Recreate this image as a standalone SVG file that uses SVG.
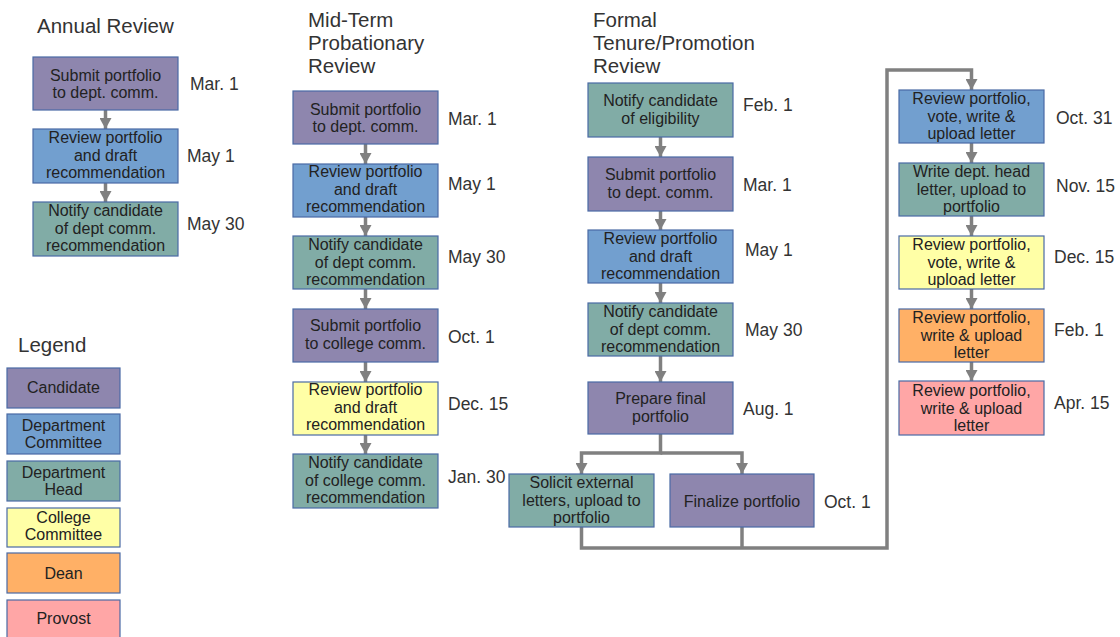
<svg xmlns="http://www.w3.org/2000/svg" width="1120" height="637" viewBox="0 0 1120 637">
<style>
text{font-family:"Liberation Sans",Arial,sans-serif}
.t{font-size:20.5px;fill:#333}
.d{font-size:17.5px;fill:#333}
.b{font-size:16px;fill:#222;text-anchor:middle}
.lg{font-size:16px;fill:#222;text-anchor:middle}
rect{stroke:#4a6aa5;stroke-width:1.2}
.cand{fill:#8e86ae}
.dc{fill:#729fcf}
.dh{fill:#81aca6}
.cc{fill:#ffffa6}
.dean{fill:#ffb066}
.prov{fill:#ffa6a6}
.c{fill:none;stroke:#808080;stroke-width:3.5}
</style>
<defs>
<marker id="ah" markerUnits="userSpaceOnUse" markerWidth="12" markerHeight="12" refX="11" refY="6" orient="auto">
<path d="M0,0 L11,6 L0,12 z" fill="#808080"/>
</marker>
</defs>
<g id="titles">
<text class="t" x="37" y="33">Annual Review</text>
<text class="t" x="308" y="27">Mid-Term</text>
<text class="t" x="308" y="50">Probationary</text>
<text class="t" x="308" y="73">Review</text>
<text class="t" x="593" y="27">Formal</text>
<text class="t" x="593" y="50">Tenure/Promotion</text>
<text class="t" x="593" y="73">Review</text>
<text class="t" x="18" y="352">Legend</text>
</g>
<g id="connectors">
<path class="c" d="M105.5,110 V129" marker-end="url(#ah)"/>
<path class="c" d="M105.5,183 V202" marker-end="url(#ah)"/>
<path class="c" d="M365.5,144 V164" marker-end="url(#ah)"/>
<path class="c" d="M365.5,217 V236" marker-end="url(#ah)"/>
<path class="c" d="M365.5,289 V309" marker-end="url(#ah)"/>
<path class="c" d="M365.5,362 V382" marker-end="url(#ah)"/>
<path class="c" d="M365.5,435 V454" marker-end="url(#ah)"/>
<path class="c" d="M660.5,137 V157" marker-end="url(#ah)"/>
<path class="c" d="M660.5,211 V230" marker-end="url(#ah)"/>
<path class="c" d="M660.5,283 V303" marker-end="url(#ah)"/>
<path class="c" d="M660.5,356 V382" marker-end="url(#ah)"/>
<path class="c" d="M660.5,434 V453 H581.5 V474" marker-end="url(#ah)"/>
<path class="c" d="M660.5,453 H742 V474" marker-end="url(#ah)"/>
<path class="c" d="M581.5,527 V548 H887 V70 H971.5 V90" marker-end="url(#ah)"/>
<path class="c" d="M742,527 V548"/>
<path class="c" d="M971.5,143 V163" marker-end="url(#ah)"/>
<path class="c" d="M971.5,216 V236" marker-end="url(#ah)"/>
<path class="c" d="M971.5,289 V309" marker-end="url(#ah)"/>
<path class="c" d="M971.5,362 V381" marker-end="url(#ah)"/>
</g>
<g id="a1"><rect class="cand" x="33" y="57" width="145" height="53"/><text class="b"><tspan x="105.5" y="81">Submit portfolio</tspan><tspan x="105.5" y="98">to dept. comm.</tspan></text><text class="d" x="190" y="90">Mar. 1</text></g>
<g id="a2"><rect class="dc" x="33" y="129" width="145" height="54"/><text class="b"><tspan x="105.5" y="143">Review portfolio</tspan><tspan x="105.5" y="161">and draft</tspan><tspan x="105.5" y="178">recommendation</tspan></text><text class="d" x="187" y="162">May 1</text></g>
<g id="a3"><rect class="dh" x="33" y="202" width="145" height="54"/><text class="b"><tspan x="105.5" y="216">Notify candidate</tspan><tspan x="105.5" y="234">of dept comm.</tspan><tspan x="105.5" y="251">recommendation</tspan></text><text class="d" x="187" y="230">May 30</text></g>

<g id="m1"><rect class="cand" x="293" y="91" width="145" height="53"/><text class="b"><tspan x="365.5" y="115">Submit portfolio</tspan><tspan x="365.5" y="132">to dept. comm.</tspan></text><text class="d" x="448" y="125">Mar. 1</text></g>
<g id="m2"><rect class="dc" x="293" y="164" width="145" height="53"/><text class="b"><tspan x="365.5" y="177">Review portfolio</tspan><tspan x="365.5" y="195">and draft</tspan><tspan x="365.5" y="212">recommendation</tspan></text><text class="d" x="448" y="190">May 1</text></g>
<g id="m3"><rect class="dh" x="293" y="236" width="145" height="53"/><text class="b"><tspan x="365.5" y="250">Notify candidate</tspan><tspan x="365.5" y="268">of dept comm.</tspan><tspan x="365.5" y="285">recommendation</tspan></text><text class="d" x="448" y="263">May 30</text></g>
<g id="m4"><rect class="cand" x="293" y="309" width="145" height="53"/><text class="b"><tspan x="365.5" y="331">Submit portfolio</tspan><tspan x="365.5" y="349">to college comm.</tspan></text><text class="d" x="448" y="343">Oct. 1</text></g>
<g id="m5"><rect class="cc" x="293" y="382" width="145" height="53"/><text class="b"><tspan x="365.5" y="395">Review portfolio</tspan><tspan x="365.5" y="413">and draft</tspan><tspan x="365.5" y="430">recommendation</tspan></text><text class="d" x="448" y="410">Dec. 15</text></g>
<g id="m6"><rect class="dh" x="293" y="454" width="145" height="54"/><text class="b"><tspan x="365.5" y="468">Notify candidate</tspan><tspan x="365.5" y="486">of college comm.</tspan><tspan x="365.5" y="503">recommendation</tspan></text><text class="d" x="448" y="483">Jan. 30</text></g>

<g id="f1"><rect class="dh" x="588" y="83" width="145" height="54"/><text class="b"><tspan x="660.5" y="106">Notify candidate</tspan><tspan x="660.5" y="124">of eligibility</tspan></text><text class="d" x="743" y="111">Feb. 1</text></g>
<g id="f2"><rect class="cand" x="588" y="157" width="145" height="54"/><text class="b"><tspan x="660.5" y="180">Submit portfolio</tspan><tspan x="660.5" y="198">to dept. comm.</tspan></text><text class="d" x="743" y="191">Mar. 1</text></g>
<g id="f3"><rect class="dc" x="588" y="230" width="145" height="53"/><text class="b"><tspan x="660.5" y="244">Review portfolio</tspan><tspan x="660.5" y="262">and draft</tspan><tspan x="660.5" y="279">recommendation</tspan></text><text class="d" x="745" y="256">May 1</text></g>
<g id="f4"><rect class="dh" x="588" y="303" width="145" height="53"/><text class="b"><tspan x="660.5" y="317">Notify candidate</tspan><tspan x="660.5" y="335">of dept comm.</tspan><tspan x="660.5" y="352">recommendation</tspan></text><text class="d" x="745" y="336">May 30</text></g>
<g id="f5"><rect class="cand" x="588" y="382" width="145" height="52"/><text class="b"><tspan x="660.5" y="404">Prepare final</tspan><tspan x="660.5" y="422">portfolio</tspan></text><text class="d" x="743" y="415">Aug. 1</text></g>
<g id="f6"><rect class="dh" x="509" y="474" width="145" height="53"/><text class="b"><tspan x="581.5" y="488">Solicit external</tspan><tspan x="581.5" y="506">letters, upload to</tspan><tspan x="581.5" y="523">portfolio</tspan></text></g>
<g id="f7"><rect class="cand" x="670" y="474" width="144" height="53"/><text class="b" x="742" y="507">Finalize portfolio</text><text class="d" x="824" y="508">Oct. 1</text></g>

<g id="r1"><rect class="dc" x="899" y="90" width="145" height="53"/><text class="b"><tspan x="971.5" y="104">Review portfolio,</tspan><tspan x="971.5" y="122">vote, write &amp;</tspan><tspan x="971.5" y="139">upload letter</tspan></text><text class="d" x="1056" y="124">Oct. 31</text></g>
<g id="r2"><rect class="dh" x="899" y="163" width="145" height="53"/><text class="b"><tspan x="971.5" y="177">Write dept. head</tspan><tspan x="971.5" y="195">letter, upload to</tspan><tspan x="971.5" y="212">portfolio</tspan></text><text class="d" x="1056" y="192">Nov. 15</text></g>
<g id="r3"><rect class="cc" x="899" y="236" width="145" height="53"/><text class="b"><tspan x="971.5" y="250">Review portfolio,</tspan><tspan x="971.5" y="268">vote, write &amp;</tspan><tspan x="971.5" y="285">upload letter</tspan></text><text class="d" x="1054" y="263">Dec. 15</text></g>
<g id="r4"><rect class="dean" x="899" y="309" width="145" height="53"/><text class="b"><tspan x="971.5" y="323">Review portfolio,</tspan><tspan x="971.5" y="341">write &amp; upload</tspan><tspan x="971.5" y="358">letter</tspan></text><text class="d" x="1054" y="336">Feb. 1</text></g>
<g id="r5"><rect class="prov" x="899" y="381" width="145" height="54"/><text class="b"><tspan x="971.5" y="396">Review portfolio,</tspan><tspan x="971.5" y="414">write &amp; upload</tspan><tspan x="971.5" y="431">letter</tspan></text><text class="d" x="1054" y="409">Apr. 15</text></g>

<g id="legend-candidate"><rect class="cand" x="7" y="368" width="113" height="40"/><text class="lg" x="63.5" y="393">Candidate</text></g>
<g id="legend-dc"><rect class="dc" x="7" y="414" width="113" height="40"/><text class="lg"><tspan x="63.5" y="431">Department</tspan><tspan x="63.5" y="448">Committee</tspan></text></g>
<g id="legend-dh"><rect class="dh" x="7" y="461" width="113" height="40"/><text class="lg"><tspan x="63.5" y="478">Department</tspan><tspan x="63.5" y="495">Head</tspan></text></g>
<g id="legend-cc"><rect class="cc" x="7" y="508" width="113" height="39"/><text class="lg"><tspan x="63.5" y="523">College</tspan><tspan x="63.5" y="540">Committee</tspan></text></g>
<g id="legend-dean"><rect class="dean" x="7" y="553" width="113" height="40"/><text class="lg" x="63.5" y="579">Dean</text></g>
<g id="legend-provost"><rect class="prov" x="7" y="600" width="113" height="40"/><text class="lg" x="63.5" y="624">Provost</text></g>
</svg>
